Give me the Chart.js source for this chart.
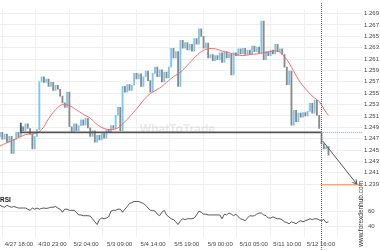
<!DOCTYPE html>
<html><head><meta charset="utf-8">
<script src="https://cdn.jsdelivr.net/npm/chart.js@4/dist/chart.umd.min.js"></script>
<style>html,body{margin:0;padding:0;background:#fff;}</style>
</head><body>
<canvas id="c" width="380" height="250"></canvas>
<script>
// ---- data (x unit = one 2-hour bar) ----
const timeLabels = ['4/27 18:00','4/30 23:00','5/2 04:00','5/3 09:00','5/4 14:00','5/5 19:00','5/9 00:00','5/10 05:00','5/11 10:00','5/12 16:00'];
const timeTickIndex = [8.2, 22.7, 37.2, 51.7, 66.2, 80.7, 95.2, 109.7, 124.2, 138.7];
const priceTicks = [1.239,1.241,1.243,1.245,1.247,1.249,1.251,1.253,1.255,1.257,1.259,1.261,1.263,1.265,1.267,1.269];
const rsiTicks = [40, 60];

const opens = [
 1.2473,1.2481,1.2469,1.2478,1.2464,1.2474,1.2444,1.2469,1.2481,1.2473,
 1.2491,1.2484,1.2496,1.2488,1.2478,1.2452,1.2474,1.2486,1.2570,1.2579,
 1.2569,1.2575,1.2562,1.2569,1.2555,1.2564,1.2557,1.2545,1.2533,1.2525,
 1.2552,1.2491,1.2483,1.2496,1.2484,1.2493,1.2503,1.2494,1.2506,1.2489,
 1.2474,1.2484,1.2464,1.2476,1.2468,1.2479,1.2471,1.2486,1.2481,1.2493,
 1.2488,1.2511,1.2525,1.2484,1.2562,1.2552,1.2565,1.2555,1.2564,1.2585,
 1.2575,1.2584,1.2562,1.2579,1.2589,1.2572,1.2552,1.2585,1.2596,1.2579,
 1.2591,1.2570,1.2587,1.2577,1.2596,1.2629,1.2612,1.2623,1.2562,1.2643,
 1.2629,1.2639,1.2626,1.2636,1.2624,1.2646,1.2636,1.2663,1.2650,1.2629,
 1.2638,1.2612,1.2618,1.2607,1.2616,1.2609,1.2621,1.2604,1.2623,1.2612,
 1.2619,1.2582,1.2621,1.2616,1.2628,1.2619,1.2629,1.2618,1.2626,1.2619,
 1.2633,1.2623,1.2631,1.2621,1.2677,1.2609,1.2623,1.2616,1.2626,1.2619,
 1.2636,1.2623,1.2628,1.2618,1.2596,1.2565,1.2589,1.2494,1.2520,1.2500,
 1.2515,1.2508,1.2516,1.2510,1.2518,1.2532,1.2515,1.2538,1.2511,1.2481,
 1.2461,1.2452,1.2456];
const closes = [
 1.2481,1.2469,1.2478,1.2464,1.2474,1.2444,1.2469,1.2481,1.2473,1.2491,
 1.2484,1.2496,1.2488,1.2478,1.2452,1.2474,1.2486,1.2570,1.2579,1.2569,
 1.2575,1.2562,1.2569,1.2555,1.2564,1.2557,1.2545,1.2533,1.2525,1.2552,
 1.2491,1.2483,1.2496,1.2484,1.2493,1.2503,1.2494,1.2506,1.2489,1.2474,
 1.2484,1.2464,1.2476,1.2468,1.2479,1.2471,1.2486,1.2481,1.2493,1.2488,
 1.2511,1.2525,1.2484,1.2562,1.2552,1.2565,1.2555,1.2564,1.2585,1.2575,
 1.2584,1.2562,1.2579,1.2589,1.2572,1.2552,1.2585,1.2596,1.2579,1.2591,
 1.2570,1.2587,1.2577,1.2596,1.2629,1.2612,1.2623,1.2562,1.2643,1.2629,
 1.2639,1.2626,1.2636,1.2624,1.2646,1.2636,1.2663,1.2650,1.2629,1.2638,
 1.2612,1.2618,1.2607,1.2616,1.2609,1.2621,1.2604,1.2623,1.2612,1.2619,
 1.2582,1.2621,1.2616,1.2628,1.2619,1.2629,1.2618,1.2626,1.2619,1.2633,
 1.2623,1.2631,1.2621,1.2677,1.2609,1.2623,1.2616,1.2626,1.2619,1.2636,
 1.2623,1.2628,1.2618,1.2596,1.2565,1.2589,1.2494,1.2520,1.2500,1.2515,
 1.2508,1.2516,1.2510,1.2518,1.2532,1.2515,1.2538,1.2511,1.2488,1.2461,
 1.2452,1.2456,1.2441];

const maIndex = [0,3,6,9,12,15,18,21,24,27,30,33,36,39,42,45,48,51,54,57,60,63,66,69,72,75,78,81,84,87,90,93,96,99,102,105,108,111,114,117,120,123,126,129,132,135,138,141,142];
const maValues = [1.2457,1.2463,1.2468,1.2474,1.2478,1.2479,1.2486,1.2505,1.2521,1.2530,1.2528,1.2521,1.2513,1.2506,1.2495,1.2488,1.2486,1.2489,1.2500,1.2513,1.2527,1.2542,1.2552,1.2559,1.2569,1.2579,1.2587,1.2599,1.2612,1.2623,1.2628,1.2628,1.2624,1.2621,1.2618,1.2616,1.2618,1.2619,1.2621,1.2623,1.2624,1.2614,1.2596,1.2574,1.2558,1.2545,1.2535,1.2516,1.2511];

const rsiValues = [
 67.5,66,65,67.5,66,65,66,65,64,64,
 64,64,62.5,61,64,62.5,64,62.5,63.5,64,
 63.5,64,65,65,66,64,62.5,58.5,62.5,62.5,
 61,61,61,58.5,55,55,54,54,54,53.5,
 50,46,42.5,49,51,50,51,52.5,60,61,
 61,62.5,62.5,58.5,62.5,66,70,71,72.5,72.5,
 72.5,71,70,67.5,64,61,61,60,56,54,
 58.5,61,55,52.5,50,49,46,42.5,47.5,50,
 49,50,50,50,51,55,60,58.5,56,56,
 55,55,55,55,55,55,50,56,55,57.5,
 56,54,56,52.5,50,49,47.5,51,54,53.5,
 54,56,57.5,57.5,55,54,51,51,52.5,51,
 50,50,48.5,46,45,43.5,46,45,43.5,46,
 47.5,46,47.5,48.5,50,49,50,50,48.5,47.5,
 49,45,46];

const supportX = [9, 9, 138.7];
const supportY = [1.2498, 1.2481, 1.2481];
const extendX = [138.7, 156.5];
const extendY = [1.2481, 1.2481];
const targetX = [138.7, 156.5];
const targetY = [1.2389, 1.2389];
const arrowX = [139.5, 154.3];
const arrowY = [1.2466, 1.2390];
const markerIndex = 138.7;

const UP = '#7cc7ec', DOWN = '#8a8a8a';
const FONT = 'Liberation Sans, Arial, sans-serif';
const pts = (xs, ys) => xs.map((x, i) => ({x, y: ys[i]}));

const overlay = {
  id: 'overlay',
  beforeDatasetsDraw(c) {
    const ctx = c.ctx, a = c.chartArea;
    ctx.save();
    ctx.font = 'bold 12px ' + FONT;
    ctx.fillStyle = 'rgba(160,160,160,0.22)';
    ctx.textAlign = 'center'; ctx.textBaseline = 'middle';
    ctx.fillText('WhatToTrade', a.left + a.width * 0.49, c.scales.y.getPixelForValue(1.2485));
    ctx.restore();
  },
  afterDatasetsDraw(c) {
    const meta = c.getDatasetMeta(6);
    const p0 = meta.data[0], p1 = meta.data[1];
    const ctx = c.ctx;
    const ang = Math.atan2(p1.y - p0.y, p1.x - p0.x);
    const L = 5;
    ctx.save();
    ctx.strokeStyle = '#555'; ctx.lineWidth = 1;
    ctx.beginPath();
    ctx.moveTo(p1.x - L * Math.cos(ang - 0.5), p1.y - L * Math.sin(ang - 0.5));
    ctx.lineTo(p1.x, p1.y);
    ctx.lineTo(p1.x - L * Math.cos(ang + 0.5), p1.y - L * Math.sin(ang + 0.5));
    ctx.stroke();
    ctx.restore();
  },
  afterDraw(c) {
    const ctx = c.ctx;
    const x = Math.round(c.scales.x.getPixelForValue(markerIndex)) + 0.5;
    ctx.save();
    ctx.strokeStyle = '#666'; ctx.lineWidth = 1; ctx.setLineDash([1, 1]);
    ctx.beginPath(); ctx.moveTo(x, 3); ctx.lineTo(x, 250); ctx.stroke();
    ctx.setLineDash([]);
    ctx.fillStyle = '#222'; ctx.font = 'bold 6.5px ' + FONT;
    ctx.textAlign = 'left'; ctx.textBaseline = 'middle';
    ctx.fillText('RSI', 0, c.scales.rsi.top + 6);
    ctx.translate(361.5, c.scales.rsi.top + 20);
    ctx.rotate(-Math.PI / 2);
    ctx.font = '6.5px ' + FONT; ctx.fillStyle = '#333';
    ctx.textAlign = 'center';
    ctx.fillText('www.forexdenhub.com', 0, 0);
    ctx.restore();
  }
};

new Chart(document.getElementById('c'), {
  type: 'bar',
  data: { datasets: [
    { type: 'bar', data: opens.map((o, i) => ({x: i, y: [o, closes[i]]})),
      backgroundColor: opens.map((o, i) => closes[i] >= o ? UP : DOWN),
      barThickness: 1.2, minBarLength: 2, yAxisID: 'y', order: 5 },
    { type: 'line', data: pts(maIndex, maValues), borderColor: '#f26a6a', borderWidth: 1,
      pointRadius: 0, tension: 0.4, yAxisID: 'y', order: 1 },
    { type: 'line', data: rsiValues.map((v, i) => ({x: i, y: v})), borderColor: '#444', borderWidth: 0.9,
      pointRadius: 0, yAxisID: 'rsi', order: 1 },
    { type: 'line', data: pts(supportX, supportY), borderColor: '#555', borderWidth: 1.8,
      pointRadius: 0, yAxisID: 'y', order: 0 },
    { type: 'line', data: pts(extendX, extendY), borderColor: '#8fa6bb', borderWidth: 1,
      borderDash: [1, 1], pointRadius: 0, yAxisID: 'y', order: 0 },
    { type: 'line', data: pts(targetX, targetY), borderColor: '#f5a878', borderWidth: 1.5,
      pointRadius: 0, yAxisID: 'y', order: 0 },
    { type: 'line', data: pts(arrowX, arrowY), borderColor: '#555', borderWidth: 1,
      pointRadius: 0, yAxisID: 'y', order: 0 }
  ]},
  options: {
    responsive: false, animation: false, devicePixelRatio: 1,
    layout: { padding: 0 },
    plugins: { legend: { display: false }, tooltip: { enabled: false } },
    scales: {
      x: { type: 'linear', min: 0, max: 156.5, offset: false,
        grid: { color: '#f0f0f0', drawTicks: false }, border: { display: false },
        afterBuildTicks: s => { s.ticks = timeTickIndex.map(v => ({value: v})); },
        afterFit: s => { s.height = 13; },
        ticks: { callback: (v, i) => timeLabels[i], maxRotation: 0, autoSkip: false,
          font: { size: 6, family: FONT }, color: '#444', padding: 4 } },
      y: { position: 'right', stack: 'p', stackWeight: 192, min: 1.23731, max: 1.2697,
        grid: { color: '#eeeeee', drawTicks: false }, border: { display: false },
        afterBuildTicks: s => { s.ticks = priceTicks.map(v => ({value: v})); },
        afterFit: s => { s.width = 18; },
        ticks: { callback: v => v.toFixed(3), autoSkip: false, font: { size: 6, family: FONT }, color: '#444', padding: 2 } },
      rsi: { position: 'right', stack: 'p', stackWeight: 45, min: 26.25, max: 82.5,
        grid: { color: '#eeeeee', drawTicks: false }, border: { display: false },
        afterBuildTicks: s => { s.ticks = rsiTicks.map(v => ({value: v})); },
        afterFit: s => { s.width = 18; },
        ticks: { autoSkip: false, font: { size: 6, family: FONT }, color: '#444', padding: 6 } }
    }
  },
  plugins: [overlay]
});
</script>
</body></html>
